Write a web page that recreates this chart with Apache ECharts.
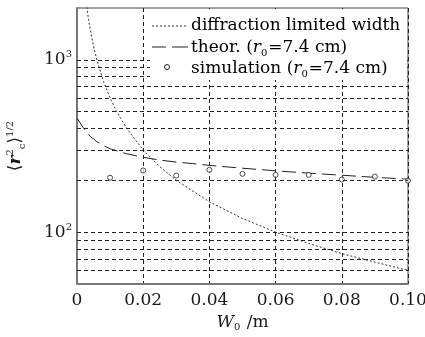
<!DOCTYPE html>
<html>
<head>
<meta charset="utf-8">
<script src="https://cdn.jsdelivr.net/npm/echarts@6/dist/echarts.min.js"></script>
<style>
html, body { margin: 0; padding: 0; background: #fff; }
#chart { width: 425px; height: 337px; }
</style>
</head>
<body>
<div id="chart"></div>
<script>
// diffraction limited width (dotted curve)
const diffW = [0.0028, 0.003, 0.0035, 0.004, 0.005, 0.006, 0.008, 0.01, 0.012, 0.015, 0.02, 0.025, 0.03, 0.04, 0.05, 0.06, 0.07, 0.08, 0.09, 0.10];
const diffR = [2140, 2000, 1710, 1500, 1200, 1000, 750, 600, 500, 400, 300, 240, 200, 150, 120, 100, 86, 75, 67, 60];

// theoretical curve, r0 = 7.4 cm (long dashes)
const theorW = [0, 0.002, 0.004, 0.006, 0.008, 0.01, 0.015, 0.02, 0.025, 0.03, 0.035, 0.04, 0.05, 0.06, 0.07, 0.08, 0.09, 0.10];
const theorR = [460, 400, 360, 335, 318, 305, 285, 272, 262, 255, 250, 244, 235, 227, 220, 214, 208, 203];

// simulation points (open circles)
const simW = [0.01, 0.02, 0.03, 0.04, 0.05, 0.06, 0.07, 0.08, 0.09, 0.10];
const simR = [207, 228, 213, 230, 218, 215, 215, 202, 210, 199];

// horizontal grid lines of the log axis
const gridR = [60, 70, 80, 90, 100, 200, 300, 400, 500, 600, 700, 800, 900, 1000];

const legendNames = [
  '{n|diffraction limited width}',
  '{n|theor. (}{it|r}{sub|0}{n|=7.4 cm)}',
  '{n|simulation (}{it|r}{sub|0}{n|=7.4 cm)}'
];

const serif = 'DejaVu Serif';
const ink = '#1a1a1a';

const legendRich = {
  n: { fontFamily: serif, fontSize: 17, color: ink, lineHeight: 20 },
  it: { fontFamily: serif, fontStyle: 'italic', fontSize: 17, color: ink, lineHeight: 20 },
  sub: { fontFamily: serif, fontSize: 10, color: ink, lineHeight: 10, verticalAlign: 'bottom', padding: [0, 1, 0, 0] }
};

const pairs = (xs, ys) => xs.map((x, i) => [x, ys[i]]);

const chart = echarts.init(document.getElementById('chart'));

chart.setOption({
  animation: false,
  textStyle: { fontFamily: serif, color: ink },
  grid: {
    left: 77, right: 17, top: 8, bottom: 53,
    outerBoundsMode: 'none',
    show: true, borderColor: '#444', borderWidth: 1
  },
  xAxis: {
    type: 'value',
    min: 0,
    max: 0.1,
    interval: 0.02,
    name: '{it|W}{sub|0}{n| /m}',
    nameLocation: 'middle',
    nameGap: 24,
    nameTextStyle: { rich: legendRich },
    axisLine: { lineStyle: { color: '#777', width: 2 } },
    axisTick: { show: false },
    axisLabel: {
      fontFamily: serif, fontSize: 17, color: ink, margin: 8,
      formatter: v => v === 0 ? '0' : v.toFixed(2)
    },
    splitLine: { show: true, lineStyle: { color: '#222', type: [4, 3], width: 1 } }
  },
  yAxis: {
    type: 'log',
    logBase: 10,
    min: 50,
    max: 2000,
    name: '{br|⟨}{b|r}{sup|2}{sub|c}{br|⟩}{sup|1/2}',
    nameLocation: 'middle',
    nameRotate: 90,
    nameGap: 50,
    nameTextStyle: {
      rich: {
        br: { fontFamily: 'DejaVu Sans', fontSize: 17, color: ink, lineHeight: 22 },
        b: { fontFamily: serif, fontStyle: 'italic', fontWeight: 'bold', fontSize: 17, color: ink, lineHeight: 22 },
        sup: { fontFamily: serif, fontSize: 10, color: ink, lineHeight: 10, verticalAlign: 'top' },
        sub: { fontFamily: serif, fontSize: 10, color: ink, lineHeight: 10, verticalAlign: 'bottom' }
      }
    },
    axisLine: { show: true, lineStyle: { color: '#777', width: 2 } },
    axisTick: { show: false },
    splitLine: { show: false },
    axisLabel: {
      margin: 5,
      formatter: v => {
        const e = Math.round(Math.log10(v));
        if (Math.abs(Math.log10(v) - e) > 1e-6 || (e !== 2 && e !== 3)) return '';
        return '{b|10}{s|' + (e === 2 ? '2' : '3') + '}';
      },
      rich: {
        b: { fontFamily: serif, fontSize: 17, color: ink, lineHeight: 20 },
        s: { fontFamily: serif, fontSize: 10, color: ink, lineHeight: 10, verticalAlign: 'top' }
      }
    }
  },
  series: [
    {
      name: 'diffraction limited width',
      type: 'line',
      data: pairs(diffW, diffR),
      symbol: 'none',
      clip: true,
      lineStyle: { color: '#333', width: 1, type: [2, 2] },
      markLine: {
        silent: true,
        symbol: 'none',
        label: { show: false },
        lineStyle: { color: '#222', type: [4, 3], width: 1 },
        data: gridR.map(r => ({ yAxis: r }))
      },
      z: 2
    },
    {
      name: 'theor.',
      type: 'line',
      data: pairs(theorW, theorR),
      symbol: 'none',
      lineStyle: { color: '#222', width: 1, type: [14, 6] },
      z: 3
    },
    {
      name: 'simulation',
      type: 'scatter',
      data: pairs(simW, simR),
      symbol: 'circle',
      symbolSize: 5,
      itemStyle: { color: '#fff', borderColor: '#222', borderWidth: 1 },
      z: 4
    }
  ],
  graphic: [
    { type: 'rect', z: 100, shape: { x: 150, y: 9, width: 257, height: 71 }, style: { fill: '#fff' } },
    { type: 'line', z: 101, shape: { x1: 152, y1: 26, x2: 188, y2: 26 }, style: { stroke: '#333', lineWidth: 1, lineDash: [2, 2] } },
    { type: 'line', z: 101, shape: { x1: 152, y1: 47, x2: 166, y2: 47 }, style: { stroke: '#222', lineWidth: 1 } },
    { type: 'line', z: 101, shape: { x1: 172, y1: 47, x2: 188, y2: 47 }, style: { stroke: '#222', lineWidth: 1 } },
    { type: 'circle', z: 101, shape: { cx: 167, cy: 67, r: 2.5 }, style: { fill: '#fff', stroke: '#222', lineWidth: 1 } },
    { type: 'text', z: 101, x: 191, y: 26, style: { text: legendNames[0], rich: legendRich, verticalAlign: 'middle' } },
    { type: 'text', z: 101, x: 191, y: 48, style: { text: legendNames[1], rich: legendRich, verticalAlign: 'middle' } },
    { type: 'text', z: 101, x: 191, y: 69, style: { text: legendNames[2], rich: legendRich, verticalAlign: 'middle' } }
  ]
});
</script>
</body>
</html>
